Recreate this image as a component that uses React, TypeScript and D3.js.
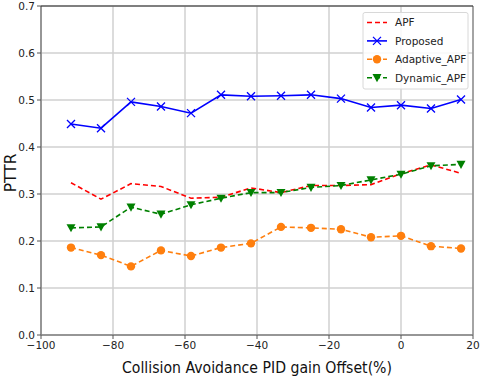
import React from "react";
import * as d3 from "d3";

const xValues = [-91.67, -83.33, -75, -66.67, -58.33, -50, -41.67, -33.33, -25, -16.67, -8.33, 0, 8.33, 16.67];
const apf = [0.324, 0.289, 0.322, 0.316, 0.291, 0.293, 0.313, 0.303, 0.318, 0.318, 0.320, 0.343, 0.362, 0.344];
const proposed = [0.449, 0.440, 0.496, 0.486, 0.472, 0.511, 0.508, 0.509, 0.511, 0.503, 0.484, 0.489, 0.482, 0.501];
const adaptiveApf = [0.186, 0.170, 0.146, 0.180, 0.168, 0.186, 0.195, 0.230, 0.228, 0.225, 0.208, 0.211, 0.189, 0.184];
const dynamicApf = [0.228, 0.230, 0.272, 0.257, 0.277, 0.291, 0.303, 0.303, 0.314, 0.318, 0.330, 0.342, 0.360, 0.363];
const xTicks = [-100, -80, -60, -40, -20, 0, 20];
const yTicks = [0, 0.1, 0.2, 0.3, 0.4, 0.5, 0.6, 0.7];
const seriesNames = ["APF", "Proposed", "Adaptive_APF", "Dynamic_APF"];

const W = 480, H = 381;
const L = 41, R = 473, T = 6, B = 335;
const font = "DejaVu Sans, sans-serif";

export default function App() {
  const x = d3.scaleLinear().domain([-100, 20]).range([L, R]);
  const y = d3.scaleLinear().domain([0, 0.7]).range([B, T]);
  const line = (vals: number[]) =>
    d3.line<number>().x((_, i) => x(xValues[i])).y((v) => y(v))(vals) || "";

  const series = [
    { name: seriesNames[0], vals: apf, color: "#ff0000", dash: "5,3", marker: "none" },
    { name: seriesNames[1], vals: proposed, color: "#0000ff", dash: "", marker: "x" },
    { name: seriesNames[2], vals: adaptiveApf, color: "#ff7f0e", dash: "5,3", marker: "o" },
    { name: seriesNames[3], vals: dynamicApf, color: "#008000", dash: "5,3", marker: "v" },
  ];

  const drawMarker = (m: string, cx: number, cy: number, color: string, key: string) => {
    if (m === "x") {
      const s = 4;
      return (
        <path key={key} d={`M${cx - s},${cy - s}L${cx + s},${cy + s}M${cx - s},${cy + s}L${cx + s},${cy - s}`} stroke={color} strokeWidth={1.3} fill="none" />
      );
    }
    if (m === "o") return <circle key={key} cx={cx} cy={cy} r={4.2} fill={color} />;
    if (m === "v") {
      const s = 4.5;
      return <path key={key} d={`M${cx - s},${cy - s * 0.8}L${cx + s},${cy - s * 0.8}L${cx},${cy + s}Z`} fill={color} />;
    }
    return null;
  };

  return (
    <svg width={W} height={H} style={{ position: "absolute", left: 0, top: 0 }} xmlns="http://www.w3.org/2000/svg">
      <rect x={0} y={0} width={W} height={H} fill="#fff" />
      {/* grid */}
      {xTicks.map((t) => (
        <line key={"gx" + t} x1={x(t)} x2={x(t)} y1={T} y2={B} stroke="#d0d0d0" strokeWidth={1.5} />
      ))}
      {yTicks.map((t) => (
        <line key={"gy" + t} x1={L} x2={R} y1={y(t)} y2={y(t)} stroke="#d0d0d0" strokeWidth={1.5} />
      ))}
      {/* spines */}
      <line x1={L} x2={L} y1={T} y2={B} stroke="#7f7f7f" strokeWidth={1.5} />
      <line x1={L} x2={R} y1={B} y2={B} stroke="#7f7f7f" strokeWidth={1.5} />
      <line x1={R} x2={R} y1={T} y2={B} stroke="#7f7f7f" strokeWidth={1.2} />
      <line x1={L} x2={R} y1={T} y2={T} stroke="#222" strokeWidth={1.2} />
      {/* ticks */}
      {xTicks.map((t) => (
        <g key={"tx" + t}>
          <line x1={x(t)} x2={x(t)} y1={B} y2={B + 4} stroke="#555" />
          <text x={x(t)} y={B + 14} fontSize={10.5} fontFamily={font} textAnchor="middle" fill="#222">
            {t < 0 ? "\u2212" + Math.abs(t) : String(t)}
          </text>
        </g>
      ))}
      {yTicks.map((t) => (
        <g key={"ty" + t}>
          <line x1={L - 4} x2={L} y1={y(t)} y2={y(t)} stroke="#555" />
          <text x={L - 6} y={y(t) + 4} fontSize={10.5} fontFamily={font} textAnchor="end" fill="#222">
            {t.toFixed(1)}
          </text>
        </g>
      ))}
      {/* labels */}
      <text x={(L + R) / 2} y={373} fontSize={15} fontFamily={font} textAnchor="middle" fill="#111" textLength={270} lengthAdjust="spacingAndGlyphs">
        Collision Avoidance PID gain Offset(%)
      </text>
      <text transform={`translate(16,${y(0.345)}) rotate(-90)`} fontSize={15.5} fontFamily={font} textAnchor="middle" fill="#111">
        PTTR
      </text>
      {/* series */}
      {series.map((s) => (
        <g key={s.name}>
          <path d={line(s.vals)} fill="none" stroke={s.color} strokeWidth={1.6} strokeDasharray={s.dash || undefined} />
          {s.vals.map((v, i) => drawMarker(s.marker, x(xValues[i]), y(v), s.color, s.name + i))}
        </g>
      ))}
      {/* legend */}
      <rect x={363} y={12.5} width={105} height={76.5} fill="#fff" fillOpacity={0.85} stroke="#d8d8d8" rx={2} />
      {series.map((s, i) => {
        const ly = 22.5 + i * 18.4;
        return (
          <g key={"lg" + s.name}>
            <line x1={367} x2={387} y1={ly} y2={ly} stroke={s.color} strokeWidth={1.6} strokeDasharray={s.dash || undefined} />
            {drawMarker(s.marker, 377, ly, s.color, "lm" + i)}
            <text x={395} y={ly + 3.8} fontSize={10.5} fontFamily={font} fill="#222">
              {s.name}
            </text>
          </g>
        );
      })}
    </svg>
  );
}
